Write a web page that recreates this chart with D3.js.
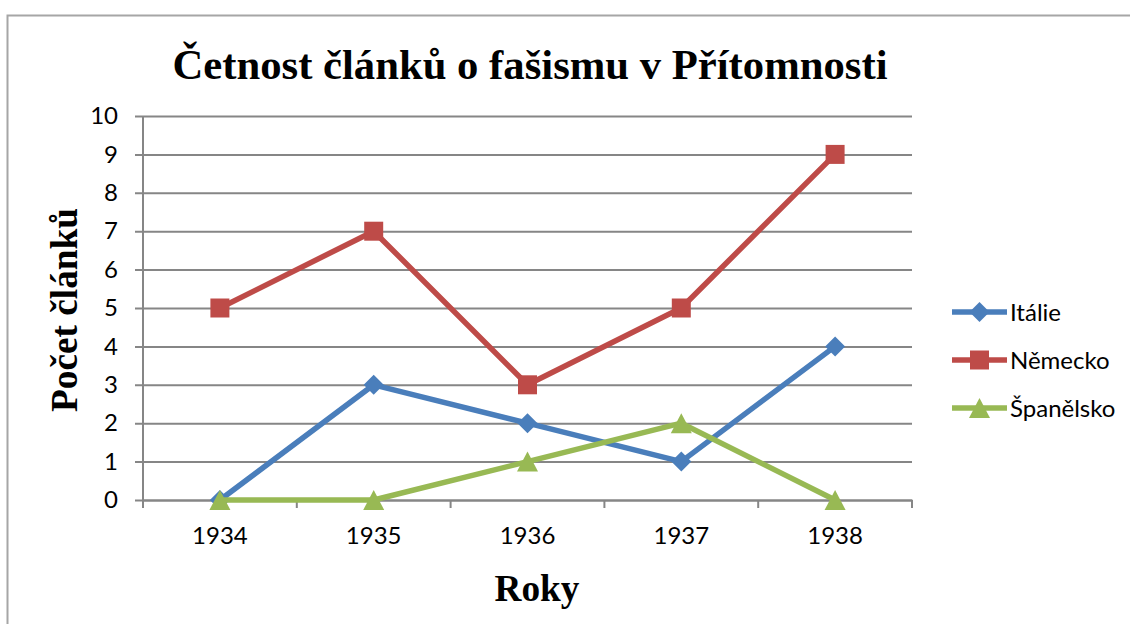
<!DOCTYPE html>
<html>
<head>
<meta charset="utf-8">
<script src="https://cdn.jsdelivr.net/npm/d3@7"></script>
<style>
body { margin: 0; background: #fff; }
svg { display: block; }
.tick text { font-family: Lato, "Open Sans", sans-serif; }
</style>
</head>
<body>
<div id="chart"></div>
<script>
// data
var years = ["1934", "1935", "1936", "1937", "1938"];
var italie = [0, 3, 2, 1, 4];
var nemecko = [5, 7, 3, 5, 9];
var spanelsko = [0, 0, 1, 2, 0];
var seriesNames = ["Itálie", "Německo", "Španělsko"];
var yTicks = [0, 1, 2, 3, 4, 5, 6, 7, 8, 9, 10];

var width = 1130, height = 624;
var margin = {top: 116, right: 218, bottom: 124, left: 143};

// excel-like markers
var diamond = "M0,-10L10,0L0,10L-10,0Z";
var square = "M-9.5,-9.5H9.5V9.5H-9.5Z";
var triangle = "M0,-10L10.5,10H-10.5Z";

var series = [
    {name: seriesNames[0], values: italie, color: "#4a7ebb", marker: diamond},
    {name: seriesNames[1], values: nemecko, color: "#be4b48", marker: square},
    {name: seriesNames[2], values: spanelsko, color: "#98b954", marker: triangle}
];

var svg = d3.select("#chart").append("svg")
    .attr("width", width)
    .attr("height", height);

// chart border
svg.append("rect")
    .attr("x", 7.5).attr("y", 15.5)
    .attr("width", 1200).attr("height", 700)
    .attr("fill", "none")
    .attr("stroke", "#a6a6a6")
    .attr("stroke-width", 2);

var x = d3.scaleBand().domain(years)
    .range([margin.left, width - margin.right]);
var y = d3.scaleLinear().domain([0, 10])
    .range([height - margin.bottom, margin.top]);

// gridlines + y axis
var yAxis = svg.append("g")
    .attr("transform", "translate(" + margin.left + ",0)")
    .call(d3.axisLeft(y).tickValues(yTicks).tickSize(8).tickPadding(17)
        .tickSizeOuter(0));
yAxis.select(".domain").attr("stroke", "#868686").attr("stroke-width", 2)
    .attr("d", "M0," + y(10) + "V" + (y(0) + 8));
yAxis.selectAll(".tick line").attr("stroke", "#868686").attr("stroke-width", 2)
    .attr("x2", width - margin.right - margin.left).attr("x1", -8);
yAxis.selectAll(".tick text").attr("font-size", 24).attr("fill", "#000");

// x axis with ticks between categories
var xAxis = svg.append("g")
    .attr("transform", "translate(0," + y(0) + ")")
    .call(d3.axisBottom(x).tickSize(0).tickPadding(27));
xAxis.select(".domain").attr("stroke", "#868686").attr("stroke-width", 2);
xAxis.selectAll(".tick text").attr("font-size", 24).attr("fill", "#000");
xAxis.selectAll(".sep").data(d3.range(years.length + 1)).enter()
    .append("line")
    .attr("x1", function(i) { return margin.left + i * x.bandwidth(); })
    .attr("x2", function(i) { return margin.left + i * x.bandwidth(); })
    .attr("y1", 0).attr("y2", 8)
    .attr("stroke", "#868686").attr("stroke-width", 2);

var cx = function(d, i) { return x(years[i]) + x.bandwidth() / 2; };
var line = d3.line().x(cx).y(function(d) { return y(d); });

series.forEach(function(s) {
    var g = svg.append("g");
    g.append("path")
        .attr("d", line(s.values))
        .attr("fill", "none")
        .attr("stroke", s.color)
        .attr("stroke-width", 5.5)
        .attr("stroke-linejoin", "round");
    g.selectAll("path.m").data(s.values).enter().append("path")
        .attr("class", "m")
        .attr("d", s.marker)
        .attr("transform", function(d, i) {
            return "translate(" + cx(d, i) + "," + y(d) + ")";
        })
        .attr("fill", s.color);
});

// titles
svg.append("text")
    .attr("x", 530).attr("y", 79)
    .attr("text-anchor", "middle")
    .attr("font-family", "Liberation Serif, serif")
    .attr("font-weight", "bold")
    .attr("font-size", 42.7)
    .text("Četnost článků o fašismu v Přítomnosti");

svg.append("text")
    .attr("transform", "translate(77,310) rotate(-90)")
    .attr("text-anchor", "middle")
    .attr("font-family", "Liberation Serif, serif")
    .attr("font-weight", "bold")
    .attr("font-size", 37.3)
    .text("Počet článků");

svg.append("text")
    .attr("x", 537).attr("y", 601)
    .attr("text-anchor", "middle")
    .attr("font-family", "Liberation Serif, serif")
    .attr("font-weight", "bold")
    .attr("font-size", 37.3)
    .text("Roky");

// legend
var legend = svg.append("g").attr("transform", "translate(952,0)");
series.forEach(function(s, i) {
    var ly = 312 + i * 48;
    legend.append("line")
        .attr("x1", 0).attr("x2", 55)
        .attr("y1", ly).attr("y2", ly)
        .attr("stroke", s.color).attr("stroke-width", 5.5);
    legend.append("path")
        .attr("d", s.marker)
        .attr("transform", "translate(27.5," + ly + ")")
        .attr("fill", s.color);
    legend.append("text")
        .attr("x", 58).attr("y", ly)
        .attr("dy", "0.36em")
        .attr("font-family", "Lato, 'Open Sans', sans-serif")
        .attr("font-size", 24)
        .text(s.name);
});
</script>
</body>
</html>
